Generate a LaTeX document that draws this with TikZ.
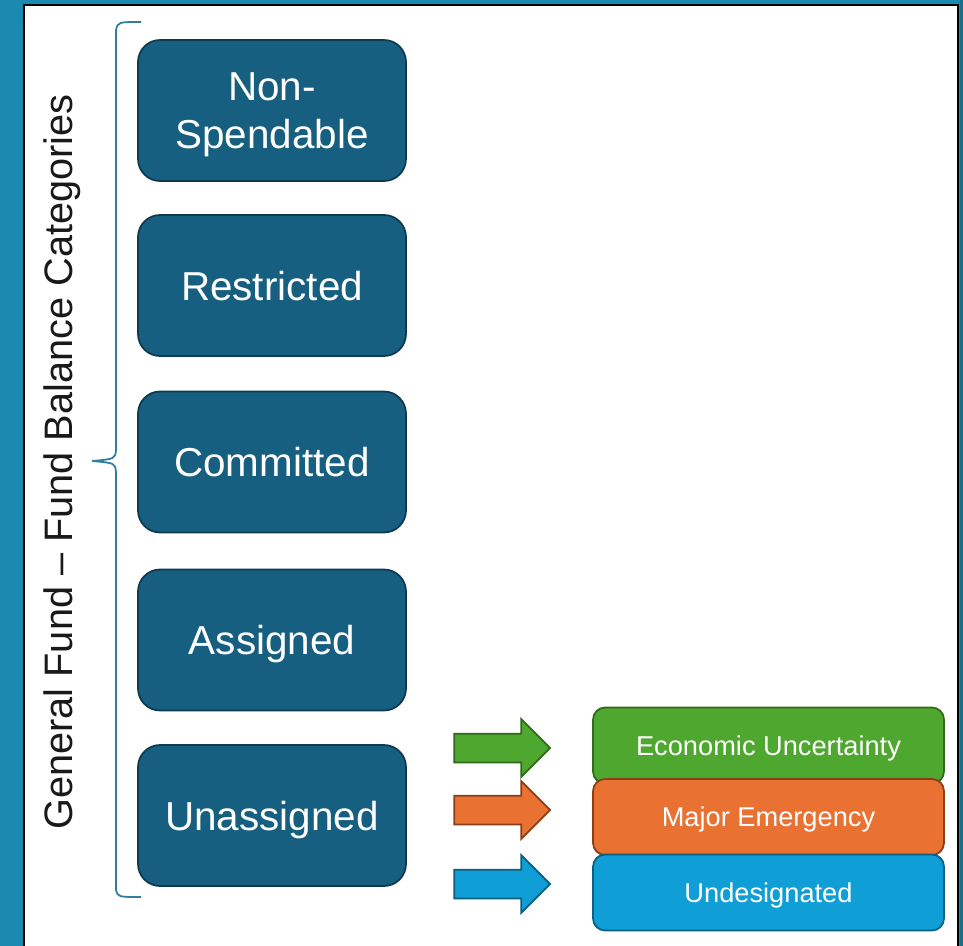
\documentclass[tikz,border=0pt]{standalone}
\usepackage{fontspec}
\setmainfont{Liberation Sans}
\usepackage{tikz}
\usetikzlibrary{shapes.arrows}
\definecolor{bgteal}{HTML}{1A8AB0}
\definecolor{bgdark}{HTML}{176E8C}
\definecolor{catblue}{HTML}{165F80}
\definecolor{catedge}{HTML}{0E3A50}
\definecolor{ecogreen}{HTML}{4EA72E}
\definecolor{ecoedge}{HTML}{2F6B1A}
\definecolor{emorange}{HTML}{E97132}
\definecolor{emedge}{HTML}{8A3F18}
\definecolor{unblue}{HTML}{0F9ED5}
\definecolor{unedge}{HTML}{0B5F80}
\definecolor{bracecol}{HTML}{2E7E9E}

\begin{document}
\begin{tikzpicture}[x=0.02cm, y=-0.02cm,
  catbox/.style={draw=catedge, line width=1pt, fill=catblue, rounded corners=0.44cm,
    minimum width=5.36cm, minimum height=2.82cm, align=center, text=white,
    text depth=0pt, font=\fontsize{23}{27.6}\selectfont},
  subbox/.style={draw=#1, line width=1pt, rounded corners=0.24cm,
    minimum width=7.02cm, minimum height=1.52cm, text=white, text depth=0pt,
    font=\fontsize{15.5}{18}\selectfont},
  blockarrow/.style={single arrow, draw=#1, line width=1pt, inner sep=0.27cm,
    minimum height=1.92cm, single arrow head extend=0.29cm}]
 \useasboundingbox (0,0) rectangle (963,946);

 % Fondo
 \fill[bgteal] (0,0) rectangle (963,946);
 \fill[bgdark] (960,0) rectangle (963,946);
 \draw[fill=white, line width=1.5pt] (24,5) rectangle (958,960);

 % Titulo vertical
 \node[rotate=90, text=black!90, font=\fontsize{22.6}{27}\selectfont] (title) at (62,462)
   {General Fund -- Fund Balance Categories};

 % Llave
 \draw[bracecol, line width=1pt] (141,22) .. controls (118,22) .. (116,30) -- (116,450)
   .. controls (115,459) .. (92,461) .. controls (115,463) .. (116,472) -- (116,890)
   .. controls (118,897) .. (141,897);

 % Categorias
 \foreach \name/\y/\txt in {nonspend/110.5/{Non-\\Spendable}, restricted/285.5/Restricted,
   committed/462/Committed, assigned/640/Assigned, unassigned/815.5/Unassigned}
  \node[catbox] (\name) at (272,\y) {\txt};

 % Flechas
 \node[blockarrow=ecoedge, fill=ecogreen]  (arreco) at (495,748) {};
 \node[blockarrow=emedge,  fill=emorange]  (arrem)  at (495,810) {};
 \node[blockarrow=unedge,  fill=unblue]    (arrun)  at (495,884) {};

 % Subcategorias
 \node[subbox=ecoedge, fill=ecogreen] (economic)  at (768.5,745.5) {Economic Uncertainty};
 \node[subbox=emedge,  fill=emorange] (emergency) at (768.5,817)   {Major Emergency};
 \node[subbox=unedge,  fill=unblue]   (undesig)   at (768.5,892.5) {Undesignated};
\end{tikzpicture}
\end{document}
